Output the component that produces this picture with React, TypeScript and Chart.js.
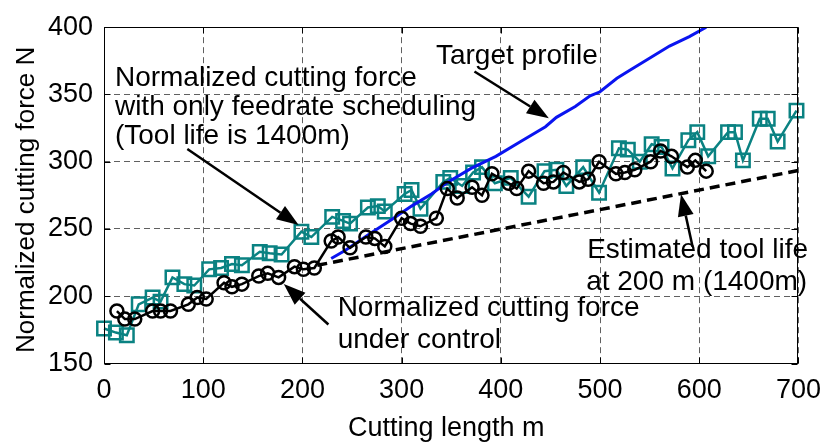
import React, { useEffect, useRef } from 'react';
import { Chart, registerables } from 'chart.js';

Chart.register(...registerables);

// ---- tick labels ----
const xTickValues = [0, 100, 200, 300, 400, 500, 600, 700];
const yTickValues = [150, 200, 250, 300, 350, 400];
const xTitle = 'Cutting length m';
const yTitle = 'Normalized cutting force N';

// ---- Normalized cutting force under control (black circles) ----
const controlX = [13, 21, 31, 49, 57, 67, 85, 94, 103, 121, 129, 139, 156, 165, 176, 192, 201, 212, 229, 236, 248, 264, 273, 283, 300, 309, 319, 335, 346, 356, 371, 381, 391, 408, 416, 428, 443, 453, 463, 479, 488, 499, 516, 525, 535, 551, 561, 572, 588, 596, 607];
const controlY = [189, 183, 183, 189, 189, 189, 194, 199, 198, 210, 207, 209, 215, 217, 214, 222, 220, 221, 241, 244, 236, 244, 243, 237, 258, 254, 252, 258, 280, 273, 281, 275, 291, 284, 280, 293, 284, 285, 292, 285, 287, 300, 291, 292, 294, 300, 308, 304, 296, 301, 293];

// ---- Normalized cutting force with only feedrate scheduling (teal squares) ----
const feedX = [0, 12, 23, 35, 49, 57, 69, 81, 91, 106, 118, 129, 139, 157, 167, 179, 199, 209, 230, 241, 248, 266, 276, 283, 303, 310, 319, 342, 349, 361, 372, 381, 394, 410, 428, 444, 456, 466, 483, 499, 519, 528, 540, 552, 562, 573, 589, 598, 609, 629, 636, 644, 661, 669, 679, 698];
const feedY = [176, 173, 171, 194, 199, 196, 214, 209, 208, 220, 221, 224, 223, 233, 232, 231, 248, 244, 259, 256, 254, 266, 267, 263, 276, 279, 265, 285, 288, 282, 292, 296, 284, 288, 274, 293, 294, 282, 296, 277, 310, 309, 300, 313, 311, 295, 316, 322, 304, 322, 322, 301, 332, 332, 315, 338];

// ---- Target profile (blue line) ----
const targetX = [229, 243, 268, 290, 310, 330, 347, 370, 395, 420, 445, 456, 475, 490, 500, 517, 530, 549, 570, 590, 607];
const targetY = [228, 234, 246.5, 257, 267, 276, 285, 295, 304, 315, 326, 333, 341, 349, 352, 362, 368, 376.5, 386, 393, 400];

// ---- Estimated tool life (black dashed line) ----
const toolLifeX = [215, 700];
const toolLifeY = [223, 293.5];

// ---- annotations (data coordinates) ----
const noteTexts = [
  'Normalized cutting force',
  'with only feedrate scheduling',
  '(Tool life is 1400m)',
  'Target profile',
  'Estimated tool life',
  'at 200 m (1400m)',
  'Normalized cutting force',
  'under control',
];
const noteX = [11, 11, 11, 334.6, 487, 486, 235.5, 235.5];
const noteY = [356.3, 334.6, 312.9, 372.9, 228.4, 204.3, 185, 161.7];

const arrowFromX = [84, 373.4, 593.3, 226.2];
const arrowFromY = [309.5, 367.1, 236.8, 179];
const arrowToX = [196.2, 448.4, 581.6, 181.2];
const arrowToY = [252.9, 332.4, 275.9, 209.1];

const FONT = '"Liberation Sans", Arial, Helvetica, sans-serif';

const zip = (xs: number[], ys: number[]) => xs.map((x, i) => ({ x, y: ys[i] }));

const overlayPlugin = {
  id: 'overlay',
  afterDraw(chart: any) {
    const { ctx, chartArea, scales } = chart;
    const xs = scales.x;
    const ys = scales.y;
    ctx.save();
    // box
    ctx.setLineDash([]);
    ctx.strokeStyle = '#000';
    ctx.lineWidth = 1;
    const l = Math.round(chartArea.left) + 0.5;
    const r = Math.round(chartArea.right) - 0.5;
    const t = Math.round(chartArea.top) + 0.5;
    const b = Math.round(chartArea.bottom) - 0.5;
    ctx.strokeRect(l, t, r - l, b - t);
    // inward ticks
    const tl = 6;
    ctx.beginPath();
    xTickValues.forEach((v) => {
      const px = Math.round(xs.getPixelForValue(v)) + 0.5;
      ctx.moveTo(px, b);
      ctx.lineTo(px, b - tl);
      ctx.moveTo(px, t);
      ctx.lineTo(px, t + tl);
    });
    yTickValues.forEach((v) => {
      const py = Math.round(ys.getPixelForValue(v)) + 0.5;
      ctx.moveTo(l, py);
      ctx.lineTo(l + tl, py);
      ctx.moveTo(r, py);
      ctx.lineTo(r - tl, py);
    });
    ctx.stroke();

    ctx.fillStyle = '#000';
    // axis titles
    ctx.font = `27px ${FONT}`;
    ctx.textAlign = 'center';
    ctx.textBaseline = 'alphabetic';
    ctx.fillText(xTitle, (chartArea.left + chartArea.right) / 2 - 5, 436);
    ctx.save();
    ctx.font = `26px ${FONT}`;
    ctx.translate(33.5, (chartArea.top + chartArea.bottom) / 2 + 4.5);
    ctx.rotate(-Math.PI / 2);
    ctx.fillText(yTitle, 0, 0);
    ctx.restore();

    // texts
    ctx.font = `28px ${FONT}`;
    ctx.textAlign = 'left';
    ctx.textBaseline = 'alphabetic';
    noteTexts.forEach((txt, i) => {
      ctx.fillText(txt, xs.getPixelForValue(noteX[i]), ys.getPixelForValue(noteY[i]));
    });

    // arrows
    ctx.lineWidth = 2.5;
    arrowFromX.forEach((_, i) => {
      const x0 = xs.getPixelForValue(arrowFromX[i]);
      const y0 = ys.getPixelForValue(arrowFromY[i]);
      const x1 = xs.getPixelForValue(arrowToX[i]);
      const y1 = ys.getPixelForValue(arrowToY[i]);
      const ang = Math.atan2(y1 - y0, x1 - x0);
      const hl = 22;
      const hw = 8;
      const bx = x1 - hl * Math.cos(ang);
      const by = y1 - hl * Math.sin(ang);
      ctx.beginPath();
      ctx.moveTo(x0, y0);
      ctx.lineTo(bx, by);
      ctx.stroke();
      ctx.beginPath();
      ctx.moveTo(x1, y1);
      ctx.lineTo(bx + hw * Math.sin(ang), by - hw * Math.cos(ang));
      ctx.lineTo(bx - hw * Math.sin(ang), by + hw * Math.cos(ang));
      ctx.closePath();
      ctx.fill();
    });
    ctx.restore();
  },
};

export default function App() {
  const ref = useRef<HTMLCanvasElement>(null);
  useEffect(() => {
    document.body.style.margin = '0';
    const canvas = ref.current;
    if (!canvas) return;
    const chart = new Chart(canvas, {
      type: 'scatter',
      data: {
        datasets: [
          {
            label: 'Normalized cutting force under control',
            data: zip(controlX, controlY),
            showLine: true,
            borderColor: '#000',
            borderWidth: 2.5,
            pointStyle: 'circle',
            pointRadius: 6.5,
            pointBorderWidth: 2.5,
            pointBorderColor: '#000',
            pointBackgroundColor: 'rgba(0,0,0,0)',
            clip: false,
          } as any,
          {
            label: 'Estimated tool life',
            data: zip(toolLifeX, toolLifeY),
            showLine: true,
            borderColor: '#000',
            borderWidth: 3.5,
            borderDash: [10, 6],
            pointRadius: 0,
          } as any,
          {
            label: 'Target profile',
            data: zip(targetX, targetY),
            showLine: true,
            borderColor: '#0a14f0',
            borderWidth: 3,
            pointRadius: 0,
          } as any,
          {
            label: 'Normalized cutting force with only feedrate scheduling',
            data: zip(feedX, feedY),
            showLine: true,
            borderColor: '#0a8282',
            borderWidth: 2.5,
            pointStyle: 'rect',
            pointRadius: 9.5,
            pointBorderWidth: 2.5,
            pointBorderColor: '#0a8282',
            pointBackgroundColor: 'rgba(0,0,0,0)',
            clip: false,
          } as any,
        ],
      },
      options: {
        responsive: false,
        animation: false,
        devicePixelRatio: 1,
        layout: { padding: { top: 17.5, right: 29, left: 0, bottom: 0 } },
        plugins: { legend: { display: false }, tooltip: { enabled: false } },
        scales: {
          x: {
            type: 'linear',
            min: 0,
            max: 700,
            afterBuildTicks: (s: any) => {
              s.ticks = xTickValues.map((v) => ({ value: v }));
            },
            afterFit: (s: any) => {
              s.height = 82.5;
            },
            ticks: { color: '#000', font: { family: FONT, size: 27 }, padding: 11, maxRotation: 0, autoSkip: false },
            grid: { color: '#606060', lineWidth: 1, drawTicks: false, borderDash: [6, 4] } as any,
            border: { display: false, dash: [6, 4] },
            title: { display: false },
          },
          y: {
            type: 'linear',
            min: 150,
            max: 400,
            afterBuildTicks: (s: any) => {
              s.ticks = yTickValues.map((v) => ({ value: v }));
            },
            afterFit: (s: any) => {
              s.width = 104;
            },
            ticks: { color: '#000', font: { family: FONT, size: 27 }, padding: 11, autoSkip: false },
            grid: { color: '#606060', lineWidth: 1, drawTicks: false, borderDash: [6, 4] } as any,
            border: { display: false, dash: [6, 4] },
            title: { display: false },
          },
        },
      },
      plugins: [overlayPlugin],
    });
    return () => chart.destroy();
  }, []);
  return (
    <div style={{ position: 'fixed', left: 0, top: 0, width: 832, height: 446, background: '#fff' }}>
      <canvas ref={ref} width={832} height={446} style={{ display: 'block', width: 832, height: 446 }} />
    </div>
  );
}
